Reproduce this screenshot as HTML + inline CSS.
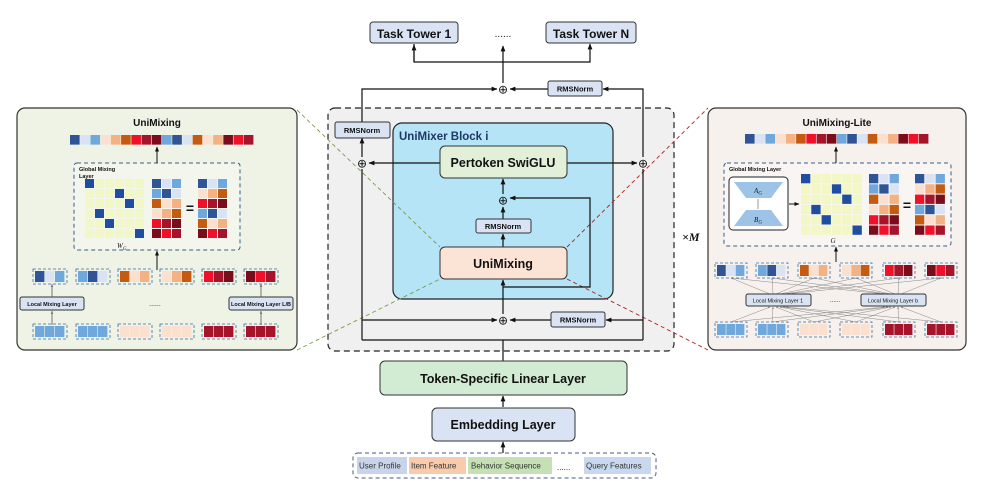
<!DOCTYPE html>
<html><head><meta charset="utf-8"><style>
html,body{margin:0;padding:0;background:#fff}
svg{display:block}
text{font-family:"Liberation Sans",sans-serif;font-weight:bold;fill:#111}
</style></head><body>
<svg id="s" width="982" height="496" viewBox="0 0 982 496" xmlns="http://www.w3.org/2000/svg">
<defs>
<marker id="a" viewBox="0 0 10 10" refX="9" refY="5" markerWidth="5" markerHeight="5" orient="auto"><path d="M0,1 L10,5 L0,9 z" fill="#111"/></marker>
<marker id="ag" viewBox="0 0 10 10" refX="9" refY="5" markerWidth="4" markerHeight="4" orient="auto"><path d="M0,1 L10,5 L0,9 z" fill="#777"/></marker>
</defs>

<rect x="17" y="108" width="280" height="242" rx="8" fill="#eef3e6" stroke="#333" stroke-width="1.2"/>
<rect x="708" y="108" width="258" height="242" rx="8" fill="#f7f1ee" stroke="#333" stroke-width="1.2"/>
<text x="157" y="126" font-size="10" text-anchor="middle">UniMixing</text>
<text x="837" y="126" font-size="10" text-anchor="middle">UniMixing-Lite</text>

<rect x="328" y="108" width="346" height="243" rx="7" fill="#f0f0f0" stroke="#222" stroke-width="1.2" stroke-dasharray="6,4"/>
<rect x="393" y="123" width="220" height="176" rx="9" fill="#b4e4f6" stroke="#222" stroke-width="1.2"/>
<text x="399" y="140" font-size="11.5" style="fill:#1f3864">UniMixer Block i</text>
<text x="682" y="241" font-size="12" font-style="italic" style="font-family:'Liberation Serif',serif">×M</text>

<g stroke-dasharray="4,3" stroke-width="0.9" fill="none">
<line x1="297" y1="110" x2="440" y2="247" stroke="#7a9a4a"/>
<line x1="297" y1="350" x2="440" y2="279" stroke="#7a9a4a"/>
<line x1="567" y1="247" x2="708" y2="108" stroke="#b02020"/>
<line x1="567" y1="279" x2="708" y2="350" stroke="#b02020"/>
</g>

<rect x="370" y="22" width="88" height="21" rx="3" fill="#dae3f3" stroke="#333"/>
<text x="414" y="38" font-size="12" text-anchor="middle">Task Tower 1</text>
<rect x="546" y="22" width="90" height="21" rx="3" fill="#dae3f3" stroke="#333"/>
<text x="591" y="38" font-size="12" text-anchor="middle">Task Tower N</text>
<text x="503" y="37" font-size="10" text-anchor="middle" style="font-weight:normal">......</text>

<g stroke="#111" stroke-width="1.2" fill="none">
<polyline points="414,44 414,62 590,62 590,44" marker-end="url(#a)"/>
<line x1="414" y1="62" x2="414" y2="45" marker-end="url(#a)"/>
<line x1="503" y1="83" x2="503" y2="46" marker-end="url(#a)"/>
<polyline points="362,122 362,89 497,89" marker-end="url(#a)"/>
<polyline points="643,157 643,89 603,89" marker-end="url(#a)"/>
<line x1="548" y1="89" x2="510" y2="89" marker-end="url(#a)"/>
<line x1="362" y1="157" x2="362" y2="138" marker-end="url(#a)"/>
<line x1="440" y1="163" x2="369" y2="163" marker-end="url(#a)"/>
<line x1="567" y1="163" x2="637" y2="163" marker-end="url(#a)"/>
<line x1="503" y1="194" x2="503" y2="179" marker-end="url(#a)"/>
<line x1="503" y1="219" x2="503" y2="207" marker-end="url(#a)"/>
<line x1="503" y1="247" x2="503" y2="234" marker-end="url(#a)"/>
<polyline points="503,287 590,287 590,198 510,198" marker-end="url(#a)"/>
<line x1="503" y1="314" x2="503" y2="280" marker-end="url(#a)"/>
<polyline points="362,340 362,169"/>
<polyline points="643,340 643,169"/>
<line x1="362" y1="340" x2="643" y2="340"/>
<line x1="362" y1="320" x2="497" y2="320" marker-end="url(#a)"/>
<line x1="643" y1="320" x2="606" y2="320" marker-end="url(#a)"/>
<line x1="551" y1="320" x2="510" y2="320" marker-end="url(#a)"/>
<line x1="503" y1="361" x2="503" y2="340"/>
<line x1="503" y1="407" x2="503" y2="396" marker-end="url(#a)"/>
<line x1="503" y1="453" x2="503" y2="442" marker-end="url(#a)"/>
</g>
<g font-size="12" text-anchor="middle">
<text x="503" y="93.5" style="font-weight:normal">⊕</text>
<text x="362" y="167.5" style="font-weight:normal">⊕</text>
<text x="643" y="167.5" style="font-weight:normal">⊕</text>
<text x="503" y="204.5" style="font-weight:normal">⊕</text>
<text x="503" y="324.5" style="font-weight:normal">⊕</text>
</g>

<g fill="#dae3f3" stroke="#333">
<rect x="548" y="81" width="54" height="15" rx="2"/>
<rect x="335" y="122" width="55" height="16" rx="2"/>
<rect x="476" y="219" width="55" height="14" rx="2"/>
<rect x="551" y="312" width="54" height="15" rx="2"/>
</g>
<g font-size="7.5" text-anchor="middle">
<text x="575" y="91.5">RMSNorm</text>
<text x="362" y="133">RMSNorm</text>
<text x="503" y="229">RMSNorm</text>
<text x="578" y="322.5">RMSNorm</text>
</g>

<rect x="440" y="146" width="127" height="32" rx="5" fill="#e2efd9" stroke="#333"/>
<text x="503" y="167" font-size="12.5" text-anchor="middle">Pertoken SwiGLU</text>
<rect x="440" y="247" width="127" height="32" rx="5" fill="#fbe3d6" stroke="#333"/>
<text x="503" y="268" font-size="12.5" text-anchor="middle">UniMixing</text>

<rect x="380" y="361" width="247" height="34" rx="5" fill="#d2ebd3" stroke="#333"/>
<text x="503" y="383" font-size="12.5" text-anchor="middle">Token-Specific Linear Layer</text>
<rect x="432" y="408" width="143" height="33" rx="5" fill="#dae3f3" stroke="#333"/>
<text x="503" y="429" font-size="12.5" text-anchor="middle">Embedding Layer</text>
<rect x="353" y="453" width="303" height="25" rx="5" fill="#fff" stroke="#4a5a8a" stroke-dasharray="4,3"/>
<rect x="357" y="457" width="50" height="17" fill="#c8d4ea"/>
<rect x="409" y="457" width="57" height="17" fill="#f8cbad"/>
<rect x="468" y="457" width="84" height="17" fill="#c5e0b4"/>
<rect x="584" y="457" width="67" height="17" fill="#c8d8ef"/>
<g font-size="8">
<text x="359" y="468.5" style="font-weight:normal;fill:#333">User Profile</text>
<text x="411" y="468.5" style="font-weight:normal;fill:#333">Item Feature</text>
<text x="471" y="468.5" style="font-weight:normal;fill:#333">Behavior Sequence</text>
<text x="557" y="470" style="font-weight:normal">......</text>
<text x="586" y="468.5" style="font-weight:normal;fill:#333">Query Features</text>
</g>

<rect x="74" y="163" width="166" height="87" rx="3" fill="#fff" fill-opacity="0.3" stroke="#3a5f8a" stroke-dasharray="4,3"/>
<text x="79" y="171" font-size="5.5">Global Mixing</text>
<text x="79" y="178" font-size="5.5">Layer</text>
<text x="117" y="248" font-size="7" font-style="italic" style="font-weight:normal;font-family:'Liberation Serif',serif">W<tspan font-size="5" dy="2">G</tspan></text>
<text x="190" y="213" font-size="14" text-anchor="middle">=</text>
<rect x="20" y="297" width="64" height="13" rx="2" fill="#dae3f3" stroke="#333"/>
<text x="52" y="306" font-size="5.5" text-anchor="middle">Local Mixing Layer</text>
<rect x="229" y="297" width="64" height="13" rx="2" fill="#dae3f3" stroke="#333"/>
<text x="261" y="306" font-size="5.5" text-anchor="middle">Local Mixing Layer L/B</text>
<text x="155" y="306" font-size="7" text-anchor="middle" style="font-weight:normal">......</text>
<g stroke="#555" stroke-width="0.8" fill="none">
<line x1="52" y1="325" x2="52" y2="311" marker-end="url(#ag)"/>
<line x1="52" y1="297" x2="52" y2="284" marker-end="url(#ag)"/>
<line x1="261" y1="325" x2="261" y2="311" marker-end="url(#ag)"/>
<line x1="261" y1="297" x2="261" y2="284" marker-end="url(#ag)"/>
</g>
<g stroke="#111" stroke-width="1" fill="none">
<line x1="157" y1="270" x2="157" y2="251" marker-end="url(#a)"/>
<line x1="157" y1="163" x2="157" y2="147" marker-end="url(#a)"/>
</g>

<rect x="724" y="163" width="227" height="83" rx="3" fill="#fff" fill-opacity="0.3" stroke="#3a5f8a" stroke-dasharray="4,3"/>
<text x="729" y="171" font-size="5.5">Global Mixing Layer</text>
<rect x="729" y="177" width="59" height="53" rx="4" fill="#fff" stroke="#222"/>
<polygon points="734,182 783,182 771,198 746,198" fill="#9dc3e6"/>
<polygon points="746,210 771,210 783,226 734,226" fill="#9dc3e6"/>
<line x1="758" y1="199" x2="758" y2="209" stroke="#555" stroke-width="0.6"/>
<text x="758" y="193" font-size="7" text-anchor="middle" font-style="italic" style="font-weight:normal;font-family:'Liberation Serif',serif">A<tspan font-size="5" dy="1.5">G</tspan></text>
<text x="758" y="222" font-size="7" text-anchor="middle" font-style="italic" style="font-weight:normal;font-family:'Liberation Serif',serif">B<tspan font-size="5" dy="1.5">G</tspan></text>
<line x1="789" y1="204" x2="799" y2="204" stroke="#111" marker-end="url(#a)"/>
<text x="833" y="243" font-size="7" text-anchor="middle" font-style="italic" style="font-weight:normal;font-family:'Liberation Serif',serif">G</text>
<text x="907" y="210" font-size="14" text-anchor="middle">=</text>
<g stroke="#111" stroke-width="1" fill="none">
<line x1="836" y1="262" x2="836" y2="247" marker-end="url(#a)"/>
<line x1="836" y1="163" x2="836" y2="147" marker-end="url(#a)"/>
</g>
<g id="lines" stroke="#888" stroke-width="0.5"></g>
<rect x="746" y="294" width="65" height="12" rx="2" fill="#dae3f3" stroke="#333"/>
<text x="778" y="302.5" font-size="5.5" text-anchor="middle" style="font-weight:normal">Local Mixing Layer 1</text>
<rect x="861" y="294" width="65" height="12" rx="2" fill="#dae3f3" stroke="#333"/>
<text x="893" y="302.5" font-size="5.5" text-anchor="middle" style="font-weight:normal">Local Mixing Layer b</text>
<text x="835" y="302" font-size="6" text-anchor="middle" style="font-weight:normal">......</text>
<g id="sq"></g>
</svg>
<script>
(function(){
var C={db:"#2f5597",lb:"#dae3f3",mb:"#6fa8dc",pp:"#fbe0d0",pe:"#f4b183",or:"#c55a11",re:"#f0102a",dr:"#a5142a",dd:"#7b0c1b"};
var g=document.getElementById('sq'),ns="http://www.w3.org/2000/svg";
function r(x,y,w,h,f,st){var e=document.createElementNS(ns,'rect');e.setAttribute('x',x);e.setAttribute('y',y);e.setAttribute('width',w);e.setAttribute('height',h);e.setAttribute('fill',f);if(st){e.setAttribute('stroke',st);e.setAttribute('stroke-dasharray','3,2');e.setAttribute('stroke-width','0.8');}g.appendChild(e);}
var tp=["db","lb","mb","pp","pe","or","re","dr","dd","mb","db","lb","or","pp","pe","dd","re","dr"];
function row(x0,y,w){var s=w/18;tp.forEach(function(c,i){r(x0+i*s,y,s-0.6,s-0.6,C[c]);});}
row(70,135,184);row(745,134,184);
var inp=[["db","lb","mb"],["mb","db","lb"],["or","pp","pe"],["pp","pe","or"],["re","dr","dd"],["dd","re","dr"]];
var res=[["db","lb","mb"],["pp","pe","or"],["re","dr","dd"],["mb","db","lb"],["or","pp","pe"],["dd","re","dr"]];
var diag=[0,3,4,1,2,5];
function mat(x0,y0,s,ix,rx){for(var i=0;i<6;i++)for(var j=0;j<6;j++)r(x0+j*s,y0+i*s,s-1,s-1,diag[i]==j?"#1f4ea0":"#f2f7c6");
for(var i=0;i<6;i++)for(var j=0;j<3;j++){r(ix+j*s,y0+i*s,s-1,s-1,C[inp[i][j]]);r(rx+j*s,y0+i*s,s-1,s-1,C[res[i][j]]);}}
mat(85,179,10,152,198);mat(801,174,10.3,869,915);
var bot=[["mb","mb","mb"],["mb","mb","mb"],["pp","pp","pp"],["pp","pp","pp"],["dr","dr","dr"],["dr","dr","dr"]];
function groups(xs,y,w,h,arr){xs.forEach(function(x,k){r(x-2,y-2,w+4,h+4,"none","#3a6ea5");for(var j=0;j<3;j++)r(x+j*w/3,y,w/3-0.6,h,C[arr[k][j]]);});}
groups([35,78,120,162,204,246],271,30,11,inp);
groups([35,78,120,162,204,246],326,30,11,bot);
var rx=[717,758,800,842,885,927];
groups(rx,265,28,11,inp);
groups(rx,324,28,11,bot);
var L=document.getElementById('lines');
function ln(a,b,c,d){var e=document.createElementNS(ns,'line');e.setAttribute('x1',a);e.setAttribute('y1',b);e.setAttribute('x2',c);e.setAttribute('y2',d);e.setAttribute('marker-end','url(#ag)');L.appendChild(e);}
var off=[-8,-5,-2,2,5,8];
[778,893].forEach(function(bx){rx.forEach(function(x,k){ln(bx+off[k],294,x+14,278);ln(x+14,322,bx+off[k],307);});});
})();
</script>
</body></html>
